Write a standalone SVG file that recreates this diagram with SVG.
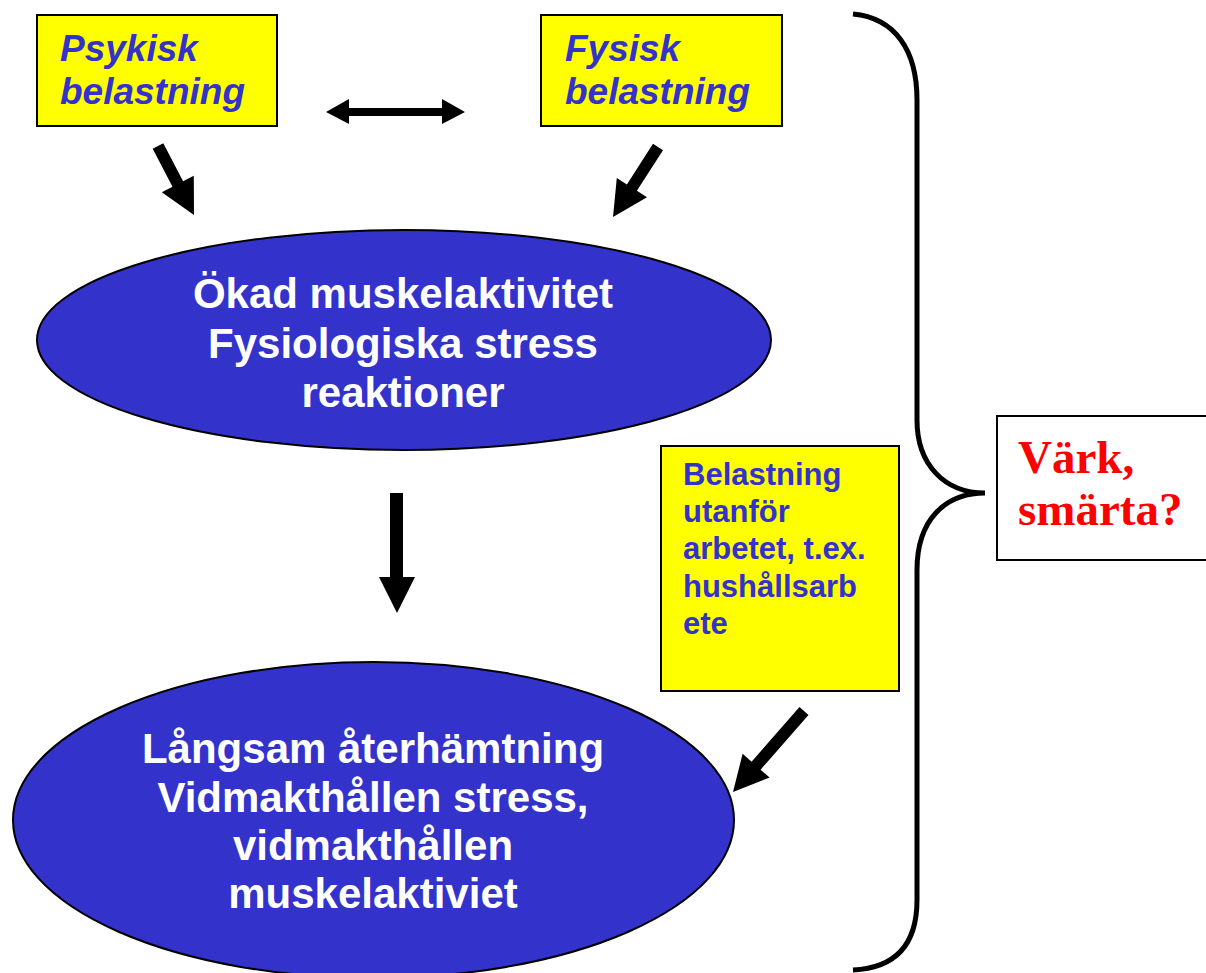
<svg xmlns="http://www.w3.org/2000/svg" width="1206" height="973" viewBox="0 0 1206 973">
<style>
.box{fill:#FFFF00;stroke:#000;stroke-width:2}
.ell{fill:#3333CC;stroke:#000;stroke-width:2}
.bi{font-family:"Liberation Sans",Arial,sans-serif;font-weight:bold;font-style:italic;font-size:37px;fill:#3333CC}
.wt{font-family:"Liberation Sans",Arial,sans-serif;font-weight:bold;font-size:42px;fill:#FFFFFF;text-anchor:middle}
.sm{font-family:"Liberation Sans",Arial,sans-serif;font-weight:bold;font-size:31px;fill:#3333CC}
.rd{font-family:"Liberation Serif","Times New Roman",serif;font-weight:bold;font-size:47px;fill:#FF0000}
.arr{fill:#000;stroke:none}
</style>
<rect width="1206" height="973" fill="#FFFFFF"/>
<g id="psykisk">
<rect class="box" x="37" y="15" width="240" height="111"/>
<text class="bi" x="60" y="61">Psykisk</text>
<text class="bi" x="60" y="104">belastning</text>
</g>
<g id="fysisk">
<rect class="box" x="541" y="15" width="241" height="111"/>
<text class="bi" x="565" y="61">Fysisk</text>
<text class="bi" x="565" y="104">belastning</text>
</g>
<g id="okad">
<ellipse class="ell" cx="404" cy="340" rx="367" ry="110"/>
<text class="wt" x="403" y="308">Ökad muskelaktivitet</text>
<text class="wt" x="403" y="358">Fysiologiska stress</text>
<text class="wt" x="403" y="407">reaktioner</text>
</g>
<g id="langsam">
<ellipse class="ell" cx="373.5" cy="820" rx="360.5" ry="158"/>
<text class="wt" x="373" y="763">Långsam återhämtning</text>
<text class="wt" x="373" y="812">Vidmakthållen stress,</text>
<text class="wt" x="373" y="860">vidmakthållen</text>
<text class="wt" x="373" y="908">muskelaktiviet</text>
</g>
<g id="utanfor">
<rect class="box" x="661" y="446" width="238" height="245"/>
<text class="sm" x="683" y="485">Belastning</text>
<text class="sm" x="683" y="522">utanför</text>
<text class="sm" x="683" y="559">arbetet, t.ex.</text>
<text class="sm" x="683" y="597">hushållsarb</text>
<text class="sm" x="683" y="634">ete</text>
</g>
<g id="vark">
<rect x="997" y="416" width="215" height="144" fill="#FFFFFF" stroke="#000" stroke-width="2"/>
<text class="rd" x="1018" y="473">Värk,</text>
<text class="rd" x="1018" y="525">smärta?</text>
</g>
<g id="connectors">
<polygon class="arr" points="326,112 349,99 349,108 442,108 442,99 465,112 442,124 442,116 349,116 349,124"/>
<polygon class="arr" points="163.3,143.2 183.1,181.2 193.8,175.7 194,215 161.8,192.3 172.5,186.8 152.7,148.8"/>
<polygon class="arr" points="663,150.2 636.9,190.8 647,197.3 613,217 616.8,177.9 626.9,184.4 653,143.8"/>
<polygon class="arr" points="390,493 403,493 403,577 415,577 397,613 379,577 390,577"/>
<polygon class="arr" points="808.5,715 760.6,769.7 769.6,777.6 733,792 742.6,753.8 751.6,761.7 799.5,707"/>
<path d="M853,14 C895,18 917,50 917,100 L917,420 C917,465 945,493 985,493 C945,493 917,520 917,570 L917,900 C917,945 895,968 853,970" fill="none" stroke="#000" stroke-width="5"/>
</g>
</svg>
